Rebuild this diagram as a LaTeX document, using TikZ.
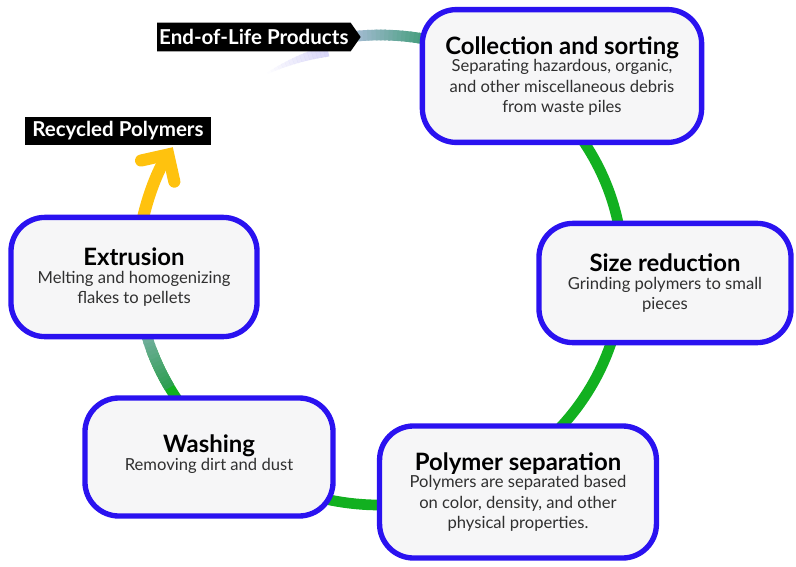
\documentclass[tikz,border=0pt]{standalone}
\usepackage{fontspec}
\setmainfont{Lato}
\usetikzlibrary{arrows.meta,shapes.symbols,positioning,calc}
\definecolor{boxblue}{HTML}{2A12F0}
\definecolor{boxfill}{HTML}{F6F6F7}
\definecolor{loopgreen}{HTML}{12B020}
\definecolor{steelgray}{HTML}{A3BBD2}
\definecolor{tealgreen}{HTML}{3C9A74}
\definecolor{washgreen}{HTML}{2E9E52}
\definecolor{arrowyellow}{HTML}{FFC20E}
\definecolor{glow}{HTML}{C4C0F4}
\definecolor{bodygray}{HTML}{303030}
\newcommand{\stephead}[1]{{\fontsize{17}{19}\selectfont\bfseries\color{black}#1}}

\begin{document}
\begin{tikzpicture}[
  x=0.025cm, y=0.025cm,
  stepbox/.style={rectangle, draw=boxblue, fill=boxfill, line width=3.8pt,
                  rounded corners=0.85cm, align=center, inner sep=0pt,
                  font=\fontsize{11.8}{14.4}\selectfont\color{bodygray}},
  tag/.style={fill=black, text=white, font=\fontsize{14.6}{16}\selectfont\bfseries,
              inner xsep=5pt, minimum height=0.72cm},
  loop/.style={line width=7.6pt},
]
\useasboundingbox (0,0) rectangle (796,-566);
\coordinate (cyc) at (380,-270);

% faint glow left of the start tag
\foreach \i in {0,...,16}{
  \pgfmathsetmacro\op{0.04*\i}
  \pgfmathsetmacro\lw{1+0.45*\i}
  \pgfmathsetmacro\ga{120-\i}
  \pgfmathsetmacro\px{232*cos(\ga)}
  \pgfmathsetmacro\py{225*sin(\ga)}
  \draw[glow, line width=\lw pt, opacity=\op]
    ([shift={(\px,\py)}]cyc)
    arc[start angle=\ga, end angle=\ga-1.05, x radius=232, y radius=225];
}

% cycle arcs
\foreach \i in {0,...,17}{
  \pgfmathsetmacro\pct{100*\i/17}
  \pgfmathsetmacro\ga{96-\i}
  \pgfmathsetmacro\px{243*cos(\ga)}
  \pgfmathsetmacro\py{235*sin(\ga)}
  \draw[loop, color=tealgreen!\pct!steelgray]
    ([shift={(\px,\py)}]cyc) arc[start angle=\ga, end angle=\ga-1.4, x radius=243, y radius=235];
}
\draw[loop, loopgreen] ([shift={({243*cos(50)},{235*sin(50)})}]cyc)
  arc[start angle=50, end angle=-160, x radius=243, y radius=235];
\foreach \i in {0,...,22}{
  \pgfmathsetmacro\pct{100*\i/22}
  \pgfmathsetmacro\ga{-150-\i}
  \pgfmathsetmacro\px{243*cos(\ga)}
  \pgfmathsetmacro\py{235*sin(\ga)}
  \draw[loop, color=steelgray!\pct!washgreen]
    ([shift={(\px,\py)}]cyc) arc[start angle=\ga, end angle=\ga-1.4, x radius=243, y radius=235];
}
\draw[loop, arrowyellow, line width=8.6pt, line cap=round,
      -{Straight Barb[length=14pt, width=28pt, line cap=round]}]
  ([shift={({243*cos(170)},{235*sin(170)})}]cyc) arc[start angle=170, end angle=148.5, x radius=243, y radius=235];

% steps
\node[stepbox, minimum width=6.98cm, minimum height=3.32cm] (collect) at (562,-76)
  {\stephead{Collection and sorting}\\[-2pt]
   Separating hazardous, organic,\\ and other miscellaneous debris\\ from waste piles};
\node[stepbox, minimum width=6.3cm, minimum height=2.98cm] (size) at (665,-283)
  {\stephead{Size reduction}\\[-2pt]
   Grinding polymers to small\\ pieces};
\node[stepbox, minimum width=6.92cm, minimum height=3.3cm] (separate) at (518,-492)
  {\stephead{Polymer separation}\\[-2pt]
   Polymers are separated based\\ on color, density, and other\\ physical properties.};
\node[stepbox, minimum width=6.2cm, minimum height=2.95cm] (wash) at (209,-457)
  {\stephead{Washing}\\[-2pt]
   Removing dirt and dust\\[-8pt]};
\node[stepbox, minimum width=6.15cm, minimum height=2.98cm] (extrude) at (134,-277)
  {\stephead{Extrusion}\\[-2pt]
   Melting and homogenizing\\ flakes to pellets};

% start and end labels
\node[tag, shape=signal, signal to=east, signal pointer angle=110, inner xsep=1.5pt, anchor=east] (eol) at (361,-37)
  {End-of-Life Products};
\node[tag, anchor=west] (recycled) at (25,-131) {Recycled Polymers};

\end{tikzpicture}
\end{document}
